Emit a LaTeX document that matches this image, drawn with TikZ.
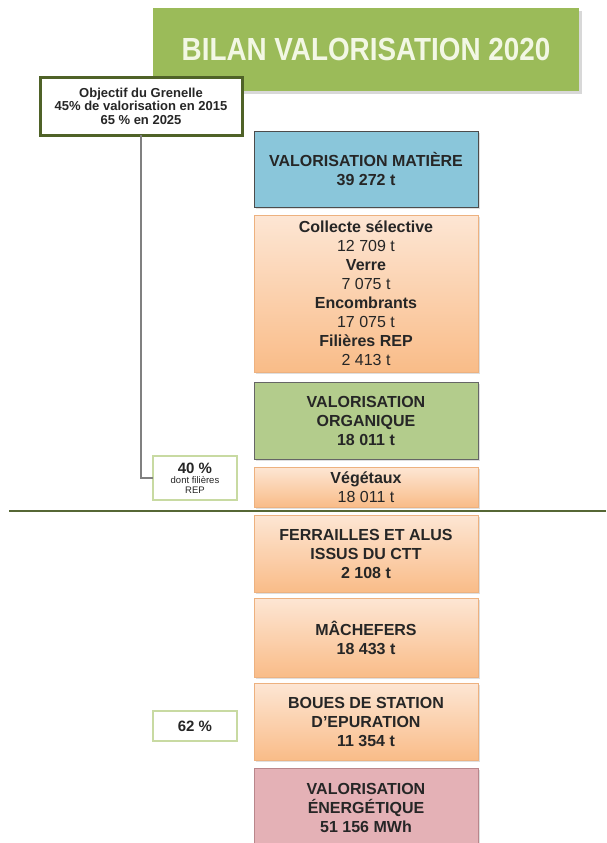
\documentclass[tikz,border=0pt]{standalone}
\usepackage{fontspec}
\usepackage{graphicx}
\setmainfont{Liberation Sans}
\usetikzlibrary{shadows}
\definecolor{titlegreen}{HTML}{9BBB59}
\definecolor{titletext}{HTML}{F2F7E4}
\definecolor{darkgreen}{HTML}{4F6228}
\definecolor{lightgreenb}{HTML}{C8DAA2}
\definecolor{bluefill}{HTML}{8AC6DA}
\definecolor{greenfill}{HTML}{B3CC8C}
\definecolor{pinkfill}{HTML}{E4B1B6}
\definecolor{pinkborder}{HTML}{B9868B}
\definecolor{orangetop}{HTML}{FDE6D4}
\definecolor{orangebot}{HTML}{F9BC88}
\definecolor{orangeborder}{HTML}{EDB17F}
\definecolor{txt}{HTML}{262626}
\definecolor{connector}{HTML}{808080}
\tikzset{
  box/.style={rectangle, inner sep=0pt, outer sep=0pt, minimum width=224pt, align=center,
    text=txt, font=\fontsize{16}{19}\selectfont,
    drop shadow={shadow xshift=1.5pt, shadow yshift=-2pt, opacity=0.25}},
  bluebox/.style={box, fill=bluefill, draw=black!70, line width=0.8pt},
  greenbox/.style={box, fill=greenfill, draw=black!60, line width=0.8pt},
  orangebox/.style={box, top color=orangetop, bottom color=orangebot, draw=orangeborder, line width=0.6pt},
  pinkbox/.style={box, fill=pinkfill, draw=pinkborder, line width=0.8pt},
  pctbox/.style={rectangle, inner sep=0pt, outer sep=0pt, minimum width=84pt, align=center,
    text=txt, fill=white, draw=lightgreenb, line width=2.5pt},
}
\begin{document}
\begin{tikzpicture}[x=1pt, y=-1pt]
\clip (0,0) rectangle (606,843);
\fill[white] (0,0) rectangle (606,843);

% title
\node[rectangle, inner sep=0pt, outer sep=0pt, minimum width=426pt, minimum height=83pt,
  fill=titlegreen, text=titletext, font=\bfseries\fontsize{32}{36}\selectfont,
  drop shadow={shadow xshift=3pt, shadow yshift=-3pt, opacity=0.3}]
  (title) at (366,49.5) {\scalebox{0.87}[1]{BILAN VALORISATION 2020}};

% Grenelle
\node[rectangle, inner sep=0pt, outer sep=0pt, minimum width=202pt, minimum height=58pt,
  fill=white, draw=darkgreen, line width=3pt, align=center, text=txt,
  font=\bfseries\fontsize{13}{13.4}\selectfont,
  drop shadow={shadow xshift=1.5pt, shadow yshift=-2pt, opacity=0.25}]
  (gren) at (141,106) {Objectif du Grenelle\\45\% de valorisation en 2015\\65 \% en 2025};

% right column
\node[bluebox, minimum height=76pt] (mat) at (366,169)
  {\textbf{VALORISATION MATIÈRE}\\\textbf{39 272 t}};
\node[orangebox, minimum height=157pt] (coll) at (366,293.5)
  {\textbf{Collecte sélective}\\12 709 t\\\textbf{Verre}\\7 075 t\\\textbf{Encombrants}\\17 075 t\\\textbf{Filières REP}\\2 413 t};
\node[greenbox, minimum height=77pt] (org) at (366,420.5)
  {\textbf{VALORISATION}\\\textbf{ORGANIQUE}\\\textbf{18 011 t}};
\node[orangebox, minimum height=40pt] (veg) at (366,487)
  {\textbf{Végétaux}\\18 011 t};
\node[orangebox, minimum height=77pt] (ferr) at (366,553.5)
  {\textbf{FERRAILLES ET ALUS}\\\textbf{ISSUS DU CTT}\\\textbf{2 108 t}};
\node[orangebox, minimum height=79pt] (mach) at (366,637.5)
  {\textbf{MÂCHEFERS}\\\textbf{18 433 t}};
\node[orangebox, minimum height=77pt] (boues) at (366,721.5)
  {\textbf{BOUES DE STATION}\\\textbf{D’EPURATION}\\\textbf{11 354 t}};
\node[pinkbox, minimum height=80pt] (ener) at (366,808)
  {\textbf{VALORISATION}\\\textbf{ÉNERGÉTIQUE}\\\textbf{51 156 MWh}};

% percentage boxes
\node[pctbox, minimum height=44pt, font=\fontsize{9.5}{9.5}\selectfont] (p40) at (195,478)
  {\textbf{\fontsize{15}{16}\selectfont 40 \%}\\[1pt]dont filières\\REP};
\node[pctbox, minimum height=30pt, font=\bfseries\fontsize{15}{16}\selectfont] (p62) at (195,726) {62 \%};

% connector
\draw[connector, line width=1.3pt] (gren.south) |- (p40.west);

% separator line
\coordinate (sepL) at (9,511);
\coordinate (sepR) at (606,511);
\draw[darkgreen!85!gray, line width=2.5pt] (sepL) -- (sepR);
\end{tikzpicture}
\end{document}
